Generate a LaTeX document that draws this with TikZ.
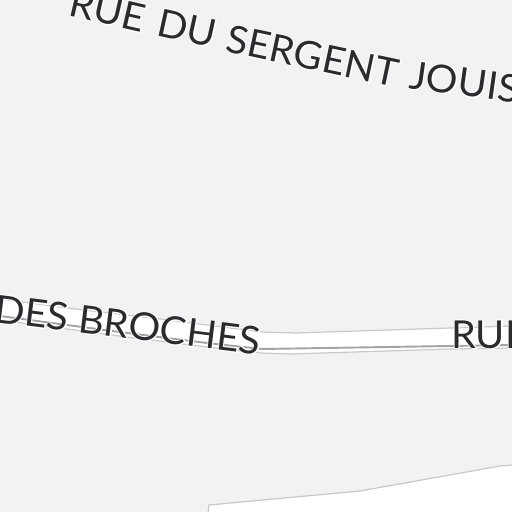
\documentclass[tikz,border=0pt]{standalone}
\usepackage{fontspec}
\setmainfont[FakeStretch=1.03]{Lato}
\newfontfamily\halofont[FakeStretch=1.03,FakeBold=5]{Lato}
\definecolor{ground}{HTML}{F2F2F2}
\definecolor{edgeline}{HTML}{C9C9C9}
\definecolor{midline}{HTML}{A3A3A3}
\definecolor{ink}{HTML}{2B2B2F}
\tikzset{
  x=1pt,y=-1pt,
  roadfill/.style={fill=white,draw=none},
  roadedge/.style={draw=edgeline,line width=1.2pt},
  roadmid/.style={draw=midline,line width=1.9pt},
  lab/.style={inner sep=0pt,anchor=base west,font=\fontsize{38.5}{38.5}\selectfont,text=ink},
  halo/.style={inner sep=0pt,anchor=base west,font=\fontsize{38.5}{38.5}\halofont,text=white},
}
\newcommand{\streetlabel}[4]{%
  \node[halo,rotate=#3] at (#1,#2) {#4};
  \node[lab,rotate=#3] at (#1,#2) {#4};
}
\begin{document}
\begin{tikzpicture}
\useasboundingbox (0,0) rectangle (512,512);
\fill[ground] (0,0) rectangle (512,512);
% road
\fill[roadfill] (0,299) -- (67,308) -- (160,319) -- (262,332) -- (295,333) -- (450,328) -- (512,326) -- (512,348) -- (450,349) -- (290,354) -- (262,353) -- (207,347) -- (127,337) -- (67,329) -- (0,320) -- cycle;
\draw[roadedge] (0,299) -- (67,308) -- (160,319) -- (262,332) -- (295,333) -- (450,328) -- (512,326);
\draw[roadedge] (0,320) -- (67,329) -- (127,337) -- (207,347) -- (262,353) -- (290,354) -- (450,349) -- (512,348);
\draw[roadmid] (0,316) -- (67,325) -- (127,333) -- (207,343) -- (262,349) -- (450,346) -- (512,345);
% block
\filldraw[fill=white,draw=edgeline,line width=1.2pt] (208,513) -- (209,505) -- (360,491) -- (500,466) -- (513,465) -- (513,513) -- cycle;
% labels
\streetlabel{67}{15}{-13}{RUE}
\streetlabel{155}{35}{-12.5}{DU}
\streetlabel{224}{51}{-12}{SERGENT}
\streetlabel{408}{88}{-8}{JOUIS}
\streetlabel{-7}{322}{-7}{DES BROCHES}
\streetlabel{451}{348}{0}{RUE}
\end{tikzpicture}
\end{document}
